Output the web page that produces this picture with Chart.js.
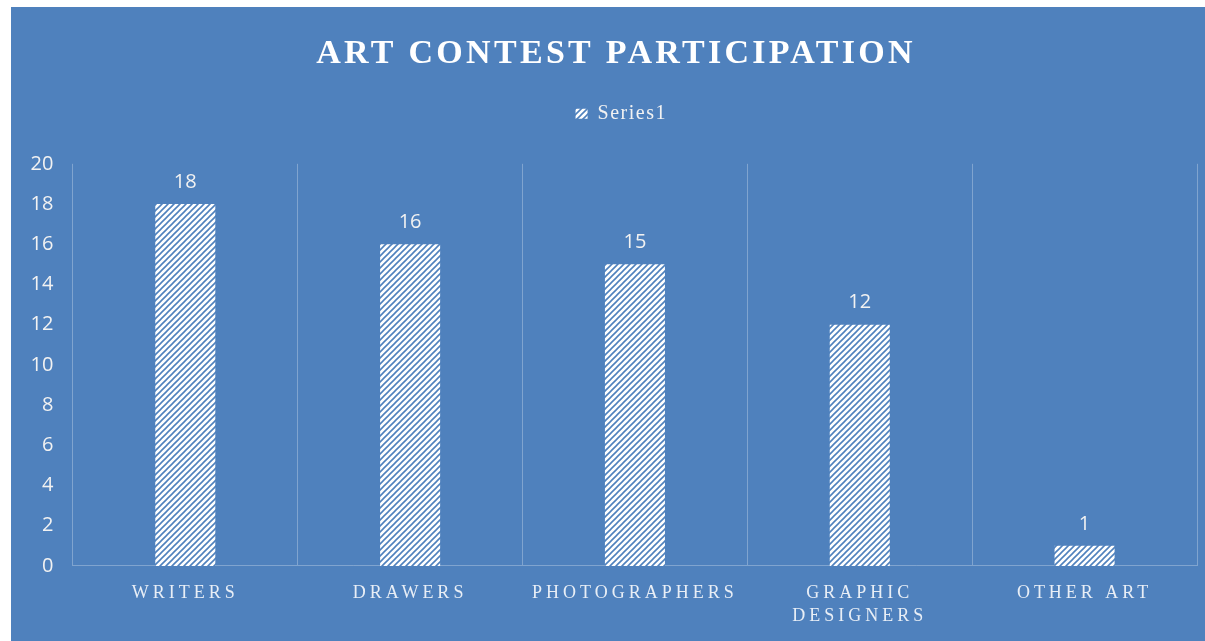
<!DOCTYPE html>
<html>
<head>
<meta charset="utf-8">
<script src="https://cdn.jsdelivr.net/npm/chart.js@4.4.1/dist/chart.umd.min.js"></script>
<style>
  html, body { margin: 0; padding: 0; background: #ffffff; }
  #wrap { position: absolute; left: 11px; top: 7px; width: 1194px; height: 634px; background: #4f81bd; }
</style>
</head>
<body>
<div id="wrap"><canvas id="chart"></canvas></div>
<script>
"use strict";

// chart data
const categories = ["WRITERS", "DRAWERS", "PHOTOGRAPHERS", ["GRAPHIC", "DESIGNERS"], "OTHER ART"];
const seriesName = "Series1";
const participants = [18, 16, 15, 12, 1];
const yMin = 0;
const yMax = 20;
const yStep = 2;

const bgBlue = "#4f81bd";
const gridColor = "rgba(255, 255, 255, 0.28)";

const canvas = document.getElementById("chart");
const ctx = canvas.getContext("2d");

// white bars with blue diagonal stripes
function makeHatch() {
  const s = 6;
  const tile = document.createElement("canvas");
  tile.width = s;
  tile.height = s;
  const g = tile.getContext("2d");
  g.fillStyle = "#ffffff";
  g.fillRect(0, 0, s, s);
  g.strokeStyle = bgBlue;
  g.lineWidth = 1.6;
  g.beginPath();
  g.moveTo(0, s); g.lineTo(s, 0);
  g.moveTo(-1, 1); g.lineTo(1, -1);
  g.moveTo(s - 1, s + 1); g.lineTo(s + 1, s - 1);
  g.stroke();
  return ctx.createPattern(tile, "repeat");
}

// canvas letterSpacing (and a small nudge) for a single box
function withSpacing(chart, obj, fn, spacing, dx) {
  if (!obj || obj["_spaced_" + fn]) return;
  const orig = obj[fn];
  obj[fn] = function (...args) {
    const c = chart.ctx;
    c.save();
    c.letterSpacing = spacing;
    c.translate(dx, 0);
    orig.apply(this, args);
    c.restore();
  };
  obj["_spaced_" + fn] = true;
}

const spacedText = {
  id: "spacedText",
  beforeLayout(chart) {
    // extra room between the legend and the plot
    const lg = chart.legend;
    if (lg && !lg._extraGap) {
      const origFit = lg.fit;
      lg.fit = function () {
        origFit.call(this);
        this.height += 30;
      };
      lg._extraGap = true;
    }
  },
  beforeDraw(chart) {
    withSpacing(chart, chart.scales.x, "drawLabels", "4px", 0);
    withSpacing(chart, chart.titleBlock, "draw", "3.3px", 12);
    withSpacing(chart, chart.legend, "draw", "1.5px", 12);
  }
};

// numbers above the bars
const barLabels = {
  id: "barLabels",
  afterDatasetsDraw(chart) {
    const c = chart.ctx;
    const meta = chart.getDatasetMeta(0);
    c.save();
    c.font = "20px 'Open Sans'";
    c.fillStyle = "#f2f2f2";
    c.textAlign = "center";
    c.textBaseline = "middle";
    meta.data.forEach((bar, i) => {
      c.fillText(String(chart.data.datasets[0].data[i]), bar.x, bar.y - 22);
    });
    c.restore();
  }
};

const data = {
  labels: categories,
  datasets: [
    {
      label: seriesName,
      data: participants,
      backgroundColor: makeHatch(),
      borderWidth: 0,
      barPercentage: 0.267,
      categoryPercentage: 1
    }
  ]
};

const config = {
  type: "bar",
  data: data,
  options: {
    responsive: true,
    maintainAspectRatio: false,
    animation: false,
    layout: { padding: { left: 0, right: 8, top: 0, bottom: -2 } },
    plugins: {
      title: {
        display: true,
        text: "ART CONTEST PARTICIPATION",
        color: "#ffffff",
        font: { family: "'Liberation Serif'", size: 34, weight: "bold", lineHeight: 1.2 },
        padding: { top: 27, bottom: -10 }
      },
      legend: {
        display: true,
        position: "top",
        labels: {
          color: "#f2f2f2",
          font: { family: "'Liberation Serif'", size: 20 },
          boxWidth: 12,
          boxHeight: 10,
          padding: 39
        }
      },
      tooltip: { enabled: false }
    },
    scales: {
      x: {
        grid: { display: true, color: gridColor, drawTicks: false, offset: true },
        border: { display: true, color: gridColor },
        ticks: {
          color: "#e8eef6",
          font: { family: "'Liberation Serif'", size: 18, lineHeight: 1.28 },
          padding: 15.5,
          maxRotation: 0,
          autoSkip: false
        }
      },
      y: {
        min: yMin,
        max: yMax,
        grid: { display: false, drawTicks: false },
        border: { display: false },
        ticks: {
          stepSize: yStep,
          color: "#f2f2f2",
          font: { family: "'Open Sans'", size: 20 },
          padding: 19.5
        }
      }
    }
  },
  plugins: [spacedText, barLabels]
};

const artChart = new Chart(canvas, config);
</script>
</body>
</html>
